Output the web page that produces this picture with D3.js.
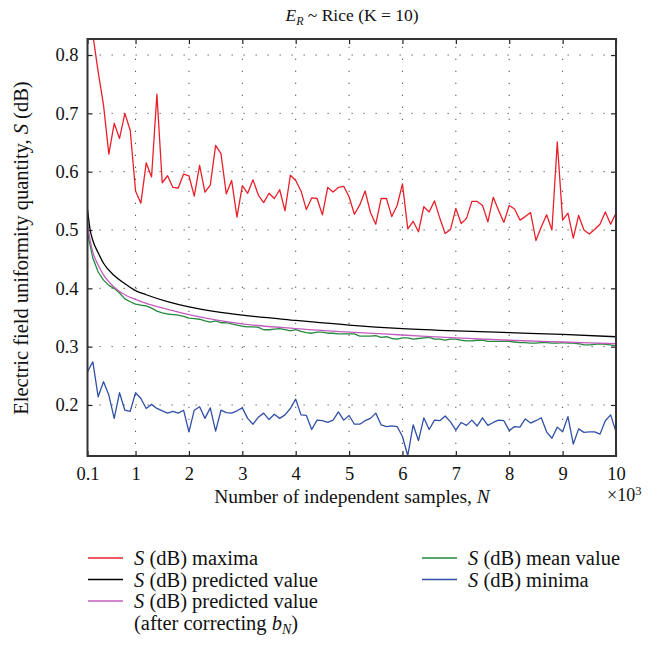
<!doctype html>
<html>
<head>
<meta charset="utf-8">
<title>E_R ~ Rice (K = 10)</title>
<script src="https://d3js.org/d3.v7.min.js"></script>
<style>
  body { margin: 0; background: #fff; }
  svg { display: block; font-family: "Liberation Serif", "DejaVu Serif", serif; fill: #111; }
  .grid line { stroke: #555; stroke-width: 1; stroke-dasharray: 1.3 10.7; }
  .frame { fill: none; stroke: #333; stroke-width: 2; }
  .axis line { stroke: #222; stroke-width: 1.2; }
  .axis text { font-size: 18.5px; fill: #111; font-family: "Liberation Serif", serif; }
  path.series { fill: none; stroke-width: 1.3; stroke-linejoin: round; }
</style>
</head>
<body>
<svg width="662" height="646"></svg>
<script>
// sample counts N (x axis), one point per 100 samples
var sampleN = d3.range(100, 10001, 100);

var maxima = [
  0.860,0.835,0.771,0.714,0.630,0.683,0.657,0.700,0.671,0.567,
  0.546,0.615,0.591,0.733,0.581,0.593,0.573,0.572,0.596,0.593,
  0.558,0.611,0.565,0.577,0.645,0.631,0.562,0.585,0.522,0.576,
  0.563,0.586,0.560,0.547,0.563,0.554,0.569,0.533,0.594,0.585,
  0.567,0.535,0.555,0.554,0.526,0.573,0.565,0.573,0.575,0.557,
  0.527,0.543,0.567,0.530,0.510,0.554,0.554,0.523,0.542,0.579,
  0.502,0.515,0.497,0.540,0.531,0.550,0.520,0.494,0.501,0.537,
  0.511,0.520,0.549,0.549,0.542,0.514,0.556,0.534,0.513,0.542,
  0.536,0.517,0.523,0.530,0.482,0.505,0.526,0.500,0.651,0.517,
  0.529,0.486,0.525,0.500,0.493,0.501,0.510,0.531,0.510,0.529
];

var minima = [
  0.257,0.274,0.214,0.240,0.217,0.177,0.221,0.191,0.189,0.221,
  0.211,0.194,0.201,0.194,0.190,0.186,0.189,0.186,0.191,0.154,
  0.191,0.197,0.177,0.195,0.155,0.191,0.187,0.186,0.190,0.195,
  0.177,0.167,0.179,0.186,0.175,0.184,0.177,0.183,0.194,0.210,
  0.183,0.182,0.158,0.174,0.173,0.170,0.174,0.188,0.174,0.182,
  0.167,0.167,0.173,0.177,0.186,0.166,0.163,0.164,0.163,0.146,
  0.113,0.166,0.139,0.178,0.158,0.174,0.173,0.181,0.171,0.157,
  0.170,0.165,0.174,0.164,0.178,0.165,0.170,0.174,0.173,0.156,
  0.163,0.162,0.176,0.169,0.173,0.178,0.154,0.143,0.162,0.154,
  0.180,0.133,0.159,0.153,0.154,0.154,0.150,0.173,0.183,0.154
];

var meanValue = [
  0.495,0.452,0.428,0.414,0.405,0.400,0.392,0.382,0.377,0.373,
  0.371,0.370,0.366,0.361,0.358,0.356,0.355,0.354,0.352,0.349,
  0.348,0.347,0.344,0.342,0.344,0.341,0.341,0.339,0.337,0.335,
  0.334,0.334,0.333,0.329,0.329,0.330,0.331,0.329,0.327,0.329,
  0.326,0.324,0.323,0.325,0.325,0.323,0.323,0.322,0.322,0.322,
  0.322,0.318,0.318,0.318,0.319,0.316,0.317,0.314,0.313,0.315,
  0.315,0.313,0.314,0.315,0.316,0.313,0.313,0.311,0.313,0.313,
  0.311,0.310,0.310,0.311,0.311,0.309,0.309,0.309,0.309,0.309,
  0.308,0.307,0.307,0.306,0.306,0.307,0.307,0.306,0.306,0.307,
  0.306,0.306,0.305,0.303,0.303,0.304,0.305,0.304,0.303,0.301
];

// smooth predicted curves, read at a few N
var predN         = [100,150,200,300,400,600,800,1000,1200,1600,2000,2500,3000,4000,5000,6000,7000,8000,9000,10000];
var predicted     = [0.535,0.500,0.482,0.461,0.443,0.422,0.408,0.396,0.389,0.377,0.368,0.360,0.354,0.345,0.337,0.331,0.327,0.324,0.321,0.317];
var predCorrected = [0.512,0.482,0.462,0.440,0.423,0.402,0.389,0.381,0.374,0.364,0.355,0.346,0.339,0.331,0.325,0.320,0.315,0.311,0.308,0.305];

var xTicks = [100,1000,2000,3000,4000,5000,6000,7000,8000,9000,10000];
var xTickLabels = ["0.1","1","2","3","4","5","6","7","8","9","10"];
var yTicks = [0.2,0.3,0.4,0.5,0.6,0.7,0.8];

var svg = d3.select("svg");
var pLeft = 87.5, pRight = 616, pTop = 39, pBottom = 456;

var x = d3.scaleLinear().domain([100, 10000]).range([pLeft, pRight]);
var y = d3.scaleLinear().domain([0.1125, 0.8275]).range([pBottom, pTop]);

svg.append("rect").attr("width", 662).attr("height", 646).attr("fill", "#fff");

// dotted grid
var grid = svg.append("g").attr("class", "grid");
grid.selectAll("line.v").data(xTicks.slice(1, -1)).enter().append("line")
  .attr("x1", d => x(d)).attr("x2", d => x(d))
  .attr("y1", pBottom).attr("y2", pTop);
grid.selectAll("line.h").data(yTicks).enter().append("line")
  .attr("x1", pLeft).attr("x2", pRight)
  .attr("y1", d => y(d)).attr("y2", d => y(d));

// axes with inward ticks
svg.append("g").attr("class", "axis")
  .attr("transform", "translate(0," + pBottom + ")")
  .call(d3.axisBottom(x).tickValues(xTicks).tickFormat((d, i) => xTickLabels[i])
    .tickSizeInner(-5).tickSizeOuter(0).tickPadding(11))
  .call(g => g.select(".domain").remove());
svg.append("g").attr("class", "axis")
  .attr("transform", "translate(0," + pTop + ")")
  .call(d3.axisTop(x).tickValues(xTicks).tickFormat("").tickSizeInner(-5).tickSizeOuter(0))
  .call(g => g.select(".domain").remove());
svg.append("g").attr("class", "axis")
  .attr("transform", "translate(" + pLeft + ",0)")
  .call(d3.axisLeft(y).tickValues(yTicks).tickFormat(d3.format(".1f"))
    .tickSizeInner(-5).tickSizeOuter(0).tickPadding(9))
  .call(g => g.select(".domain").remove());
svg.append("g").attr("class", "axis")
  .attr("transform", "translate(" + pRight + ",0)")
  .call(d3.axisRight(y).tickValues(yTicks).tickFormat("").tickSizeInner(-5).tickSizeOuter(0))
  .call(g => g.select(".domain").remove());

// series
svg.append("clipPath").attr("id", "plot-clip")
  .append("rect").attr("x", pLeft).attr("y", pTop)
  .attr("width", pRight - pLeft).attr("height", pBottom - pTop);

var plot = svg.append("g").attr("clip-path", "url(#plot-clip)");

var noisy = d3.line().x((d, i) => x(sampleN[i])).y(d => y(d));
var smooth = d3.line().x((d, i) => x(predN[i])).y(d => y(d)).curve(d3.curveMonotoneX);

plot.append("path").attr("class", "series").attr("stroke", "#e8202a").attr("d", noisy(maxima));
plot.append("path").attr("class", "series").attr("stroke", "#3050a8").attr("d", noisy(minima));
plot.append("path").attr("class", "series").attr("stroke", "#238a3e").attr("d", noisy(meanValue));
plot.append("path").attr("class", "series").attr("stroke", "#c45cc0").attr("d", smooth(predCorrected));
plot.append("path").attr("class", "series").attr("stroke", "#000").attr("d", smooth(predicted));

svg.append("rect").attr("class", "frame")
  .attr("x", pLeft).attr("y", pTop).attr("width", pRight - pLeft).attr("height", pBottom - pTop);

// title
var title = svg.append("text").attr("x", 352).attr("y", 21).attr("text-anchor", "middle")
  .style("font-size", "17.5px");
title.append("tspan").style("font-style", "italic").text("E");
title.append("tspan").style("font-style", "italic").style("font-size", "12px").attr("dy", 4).text("R");
title.append("tspan").attr("dy", -4).text(" ~ Rice (K = 10)");

// axis labels
var xl = svg.append("text").attr("x", 352).attr("y", 503).attr("text-anchor", "middle")
  .style("font-size", "19.5px");
xl.append("tspan").text("Number of independent samples, ");
xl.append("tspan").style("font-style", "italic").text("N");

var mult = svg.append("text").attr("x", 607).attr("y", 501).style("font-size", "18px");
mult.append("tspan").text("×10");
mult.append("tspan").attr("dy", -6).style("font-size", "12.5px").text("3");

var yl = svg.append("text").attr("transform", "translate(28,248) rotate(-90)")
  .attr("text-anchor", "middle").style("font-size", "20.5px");
yl.append("tspan").text("Electric field uniformity quantity, ");
yl.append("tspan").style("font-style", "italic").text("S");
yl.append("tspan").text(" (dB)");

// legend
var legendItems = [
  {color: "#e8202a", text: "maxima", col: 0, row: 0},
  {color: "#000",    text: "predicted value", col: 0, row: 1},
  {color: "#c45cc0", text: "predicted value", col: 0, row: 2},
  {color: "#238a3e", text: "mean value", col: 1, row: 0},
  {color: "#3050a8", text: "minima", col: 1, row: 1}
];
var colX = [88, 422], rowY0 = 558, rowH = 21.5;

var lg = svg.append("g").selectAll("g").data(legendItems).enter().append("g")
  .attr("transform", d => "translate(" + colX[d.col] + "," + (rowY0 + d.row * rowH) + ")");
lg.append("line").attr("x1", 0).attr("x2", 35).attr("stroke", d => d.color).attr("stroke-width", 1.5);
var lt = lg.append("text").attr("x", 46).attr("dy", "0.35em").style("font-size", "20.5px");
lt.append("tspan").style("font-style", "italic").text("S");
lt.append("tspan").text(d => " (dB) " + d.text);

var extra = svg.append("text").attr("x", 134).attr("y", rowY0 + 3 * rowH).attr("dy", "0.35em")
  .style("font-size", "20.5px");
extra.append("tspan").text("(after correcting ");
extra.append("tspan").style("font-style", "italic").text("b");
extra.append("tspan").style("font-style", "italic").style("font-size", "14px").attr("dy", 4).text("N");
extra.append("tspan").attr("dy", -4).text(")");
</script>
</body>
</html>
